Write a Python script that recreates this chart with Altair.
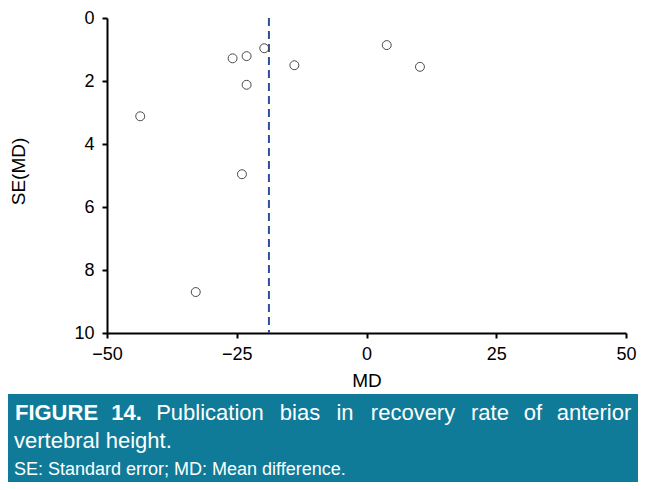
import altair as alt
import pandas as pd

# ---- data ----
md = [-43.6, -25.8, -23.1, -19.7, -13.9, -23.1, -24.0, 3.9, 10.3, -32.9]
se = [3.12, 1.28, 1.21, 0.96, 1.50, 2.12, 4.96, 0.86, 1.55, 8.70]
pooled_md = [-18.8]
x_ticks = [-50, -25, 0, 25, 50]
y_ticks = [0, 2, 4, 6, 8, 10]
caption_bold = ["FIGURE", "14."]
caption_words = ["Publication", "bias", "in", "recovery", "rate", "of", "anterior"]
caption_line2 = "vertebral height."
caption_note = "SE: Standard error; MD: Mean difference."

# ---- layout (pixels, relative to plot origin) ----
W, H = 519, 315
PAD_L, PAD_T = 99, 10
TOTAL_W, TOTAL_H = 630, 474
bold_pos = [-50.5, 19.5]
word_pos = [103, 193, 238, 306, 383, 426, 487]
FONT = "Liberation Sans"
TEAL = "#0f7b98"

pts_df = pd.DataFrame({"md": md, "se": se})
rule_df = pd.DataFrame({"md": pooled_md})
one = pd.DataFrame({"k": [0]})
bold_df = pd.DataFrame({"word": caption_bold, "px": bold_pos})
words_df = pd.DataFrame({"word": caption_words, "px": word_pos})

xscale = alt.Scale(domain=[-50, 50], nice=False, zero=False)
yscale = alt.Scale(domain=[0, 10], reverse=True, nice=False, zero=False)

points = alt.Chart(pts_df).mark_point(
    shape="circle", filled=False, size=80, color="#4a4a4a", strokeWidth=1, opacity=1
).encode(
    x=alt.X("md:Q", scale=xscale,
            axis=alt.Axis(values=x_ticks, title="MD", titleY=53,
                          titleBaseline="alphabetic", labelPadding=7,
                          labelFlush=False)),
    y=alt.Y("se:Q", scale=yscale,
            axis=alt.Axis(values=y_ticks, title="SE(MD)", titleAngle=270,
                          titleX=-89, titleY=153, titleBaseline="middle",
                          titleAlign="center", labelPadding=8,
                          labelFlush=False)),
)

rule = alt.Chart(rule_df).mark_rule(
    color="#2f4f9f", strokeDash=[8, 5], strokeWidth=2
).encode(x=alt.X("md:Q", scale=xscale))

box = alt.Chart(one).mark_rect(color=TEAL).encode(
    x=alt.value(-PAD_L), x2=alt.value(TOTAL_W - PAD_L),
    y=alt.value(376), y2=alt.value(TOTAL_H - PAD_T),
)

t_bold = alt.Chart(bold_df).mark_text(
    font=FONT, fontSize=22, fontWeight="bold", color="white",
    align="center", baseline="alphabetic"
).encode(x=alt.X("px:Q", scale=None, axis=None), y=alt.value(402), text="word:N")

t_words = alt.Chart(words_df).mark_text(
    font=FONT, fontSize=22, color="white", align="center", baseline="alphabetic"
).encode(x=alt.X("px:Q", scale=None, axis=None), y=alt.value(402), text="word:N")

t_line2 = alt.Chart(one).mark_text(
    font=FONT, fontSize=22, color="white", align="left", baseline="alphabetic"
).encode(x=alt.value(-93), y=alt.value(430), text=alt.value(caption_line2))

t_note = alt.Chart(one).mark_text(
    font=FONT, fontSize=18, color="white", align="left", baseline="alphabetic"
).encode(x=alt.value(-93), y=alt.value(457), text=alt.value(caption_note))

chart = alt.layer(box, rule, points, t_bold, t_words, t_line2, t_note).properties(
    width=W, height=H,
    padding={"left": PAD_L, "top": PAD_T, "right": TOTAL_W - PAD_L - W,
             "bottom": TOTAL_H - PAD_T - H},
    autosize=alt.AutoSizeParams(type="none"),
    background="white",
).configure_view(stroke=None).configure_axis(
    grid=False, domainColor="black", domainWidth=2, tickColor="black",
    tickWidth=2, tickSize=5, labelColor="black", labelFont=FONT,
    labelFontSize=18, titleFont=FONT, titleFontSize=19,
    titleFontWeight="normal", titleColor="black",
)

chart.save("out.html", embed_options={"renderer": "svg", "actions": False})
